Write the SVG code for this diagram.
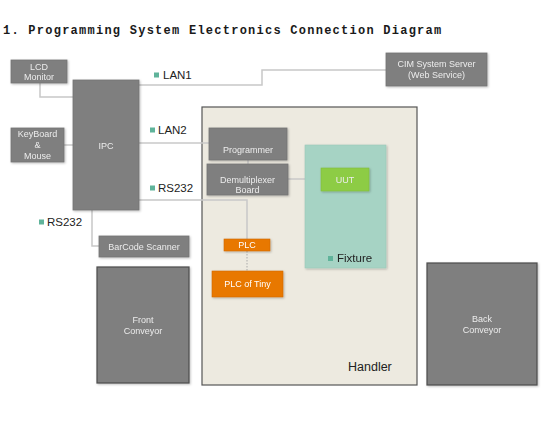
<svg xmlns="http://www.w3.org/2000/svg" width="554" height="421" viewBox="0 0 554 421">
<style>
.t{font-family:"Liberation Mono",monospace;font-size:12px;font-weight:bold;letter-spacing:1.25px;fill:#1a1a1a}
.box{fill:#7f7f7f;stroke:#747474;stroke-width:0.8}
.conv{fill:#7f7f7f;stroke:#4d4d4d;stroke-width:1.2}
.nt{font-family:"Liberation Sans",Arial,sans-serif;font-size:9px;fill:#ececec;text-anchor:middle}
.lbl{font-family:"Liberation Sans",Arial,sans-serif;font-size:11.5px;fill:#222}
.sq{fill:#5fb39a}
.c{fill:none;stroke:#c8c8c8;stroke-width:1.5}
.or{fill:#e87800;stroke:#d06a00;stroke-width:0.6}
</style>
<defs>
<filter id="sh" x="-10%" y="-10%" width="130%" height="130%">
<feDropShadow dx="1" dy="1" stdDeviation="0.8" flood-color="#000" flood-opacity="0.25"/>
</filter>
</defs>
<rect width="554" height="421" fill="#fff"/>
<text class="t" x="3" y="34">1. Programming System Electronics Connection Diagram</text>

<g id="handler">
<rect x="202" y="107" width="215" height="278" fill="#edeae0" stroke="#555" stroke-width="1.2"/>
<text x="348" y="371" font-family="Liberation Sans,Arial,sans-serif" font-size="12.5" fill="#222">Handler</text>
</g>

<g id="connectors">
<polyline class="c" points="40,83 40,97 73,97"/>
<polyline class="c" points="139,85 262,85 262,70 386,70"/>
<line class="c" x1="64" y1="145" x2="73" y2="145"/>
<line class="c" x1="139" y1="143" x2="209" y2="143"/>
<polyline class="c" points="139,200 247,200 247,239"/>
<polyline class="c" points="92,210 92,246 99,246"/>
<line class="c" x1="248" y1="160" x2="248" y2="164"/>
<line class="c" x1="288" y1="179" x2="321" y2="179"/>
<line x1="247" y1="251" x2="247" y2="271" stroke="#aaa" stroke-width="1" stroke-dasharray="1.5,1.5"/>
</g>

<g id="lcd" filter="url(#sh)">
<rect class="box" x="11" y="60" width="56" height="23"/>
<text class="nt" x="39" y="69.5">LCD</text>
<text class="nt" x="39" y="80">Monitor</text>
</g>

<g id="ipc" filter="url(#sh)">
<rect class="box" x="73" y="80" width="66" height="130"/>
<text class="nt" x="106" y="149">IPC</text>
</g>

<g id="cim" filter="url(#sh)">
<rect class="box" x="386" y="53" width="101" height="33"/>
<text class="nt" x="436.5" y="67">CIM System Server</text>
<text class="nt" x="436.5" y="78">(Web Service)</text>
</g>

<g id="keyboard" filter="url(#sh)">
<rect class="box" x="11" y="128" width="53" height="34"/>
<text class="nt" x="37.5" y="137">KeyBoard</text>
<text class="nt" x="37.5" y="148">&amp;</text>
<text class="nt" x="37.5" y="159">Mouse</text>
</g>

<g id="barcode" filter="url(#sh)">
<rect class="box" x="99" y="236" width="90" height="21"/>
<text class="nt" x="144" y="249.5">BarCode Scanner</text>
</g>

<g id="lan1"><rect class="sq" x="154" y="72.5" width="5" height="5"/><text class="lbl" x="163" y="79">LAN1</text></g>
<g id="lan2"><rect class="sq" x="150" y="127.5" width="5" height="5"/><text class="lbl" x="158" y="134">LAN2</text></g>
<g id="rs232a"><rect class="sq" x="150" y="185.5" width="5" height="5"/><text class="lbl" x="158" y="192">RS232</text></g>
<g id="rs232b"><rect class="sq" x="39" y="219.5" width="5" height="5"/><text class="lbl" x="47" y="226">RS232</text></g>

<g id="programmer" filter="url(#sh)">
<rect class="box" x="209" y="128" width="78" height="32"/>
<text class="nt" x="248" y="153">Programmer</text>
</g>

<g id="demux" filter="url(#sh)">
<rect class="box" x="207" y="164" width="81" height="31"/>
<text class="nt" x="247.5" y="182.5">Demultiplexer</text>
<text class="nt" x="247.5" y="193">Board</text>
</g>

<g id="fixture" filter="url(#sh)">
<rect x="305" y="145" width="81" height="123" fill="#a6d3c4" stroke="#9cc8b9" stroke-width="0.6"/>
<rect class="sq" x="328" y="256" width="5" height="5"/>
<text class="lbl" x="337" y="262">Fixture</text>
</g>

<g id="uut" filter="url(#sh)">
<rect x="321" y="168" width="48" height="23" fill="#8dcc45" stroke="#80bd3c" stroke-width="0.6"/>
<text class="nt" x="345" y="182.5" fill="#fff">UUT</text>
</g>

<g id="plc" filter="url(#sh)">
<rect class="or" x="224" y="239" width="46" height="12"/>
<text class="nt" x="247" y="248" style="fill:#fff">PLC</text>
</g>

<g id="plctiny" filter="url(#sh)">
<rect class="or" x="212" y="271" width="71" height="26"/>
<text class="nt" x="247.5" y="287" style="fill:#fff">PLC of Tiny</text>
</g>

<g id="front" filter="url(#sh)">
<rect class="conv" x="97" y="267" width="92" height="116"/>
<text class="nt" x="143" y="323">Front</text>
<text class="nt" x="143" y="334">Conveyor</text>
</g>

<g id="back" filter="url(#sh)">
<rect class="conv" x="427" y="263" width="110" height="122"/>
<text class="nt" x="482" y="322">Back</text>
<text class="nt" x="482" y="333">Conveyor</text>
</g>
</svg>
